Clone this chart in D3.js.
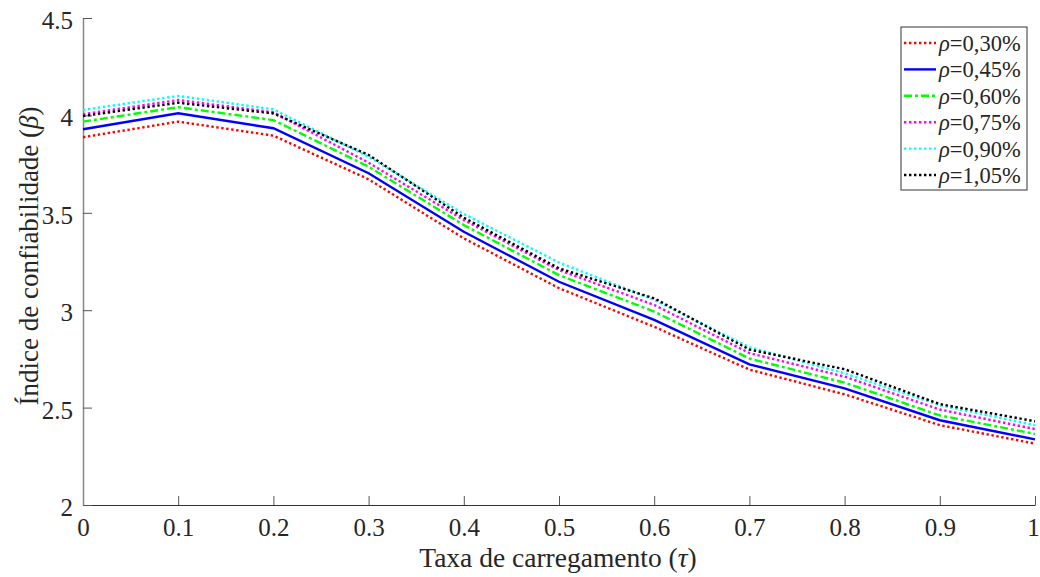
<!DOCTYPE html>
<html><head><meta charset="utf-8">
<script src="https://cdn.jsdelivr.net/npm/d3@7"></script>
<style>body{margin:0;background:#fff}svg{display:block}</style>
</head><body><svg id="c" width="1040" height="577"></svg>
<script>
const tau = [0,0.1,0.2,0.3,0.4,0.5,0.6,0.7,0.8,0.9,1.0];
const r030 = [3.888,3.968,3.896,3.672,3.369,3.113,2.915,2.695,2.568,2.41,2.315];
const r045 = [3.929,4.011,3.934,3.703,3.403,3.146,2.95,2.722,2.599,2.435,2.337];
const r060 = [3.968,4.042,3.976,3.737,3.437,3.18,2.993,2.752,2.628,2.46,2.365];
const r075 = [4.006,4.079,4.016,3.757,3.463,3.206,3.027,2.78,2.659,2.49,2.39];
const r090 = [4.028,4.10,4.031,3.788,3.494,3.245,3.053,2.81,2.676,2.512,2.41];
const r105 = [3.997,4.065,4.01,3.797,3.475,3.215,3.061,2.798,2.697,2.518,2.43];
const seriesNames = ["ρ=0,30%","ρ=0,45%","ρ=0,60%","ρ=0,75%","ρ=0,90%","ρ=1,05%"];
const seriesVals = [r030,r045,r060,r075,r090,r105];
const xTicks = [0,0.1,0.2,0.3,0.4,0.5,0.6,0.7,0.8,0.9,1];
const yTicks = [2,2.5,3,3.5,4,4.5];
const colors = ["#ff0000","#0000ff","#00ff00","#ff00ff","#00ffff","#000000"];
const dashes = ["2.4,2.6",null,"8,3,3,3","2.4,2.6","2.4,2.6","2.4,2.6"];
const FONT = '"Liberation Serif"';

const svg = d3.select("#c");
const x = d3.scaleLinear().domain([0,1]).range([83,1035]);
const y = d3.scaleLinear().domain([2,4.5]).range([505,18]);

// axes
const xa = svg.append("g").attr("transform","translate(0,505)")
  .call(d3.axisBottom(x).tickValues(xTicks).tickSizeInner(-9).tickSizeOuter(0).tickFormat(d=>d3.format("")(d)));
const ya = svg.append("g").attr("transform","translate(83,0)")
  .call(d3.axisLeft(y).tickValues(yTicks).tickSizeInner(-9).tickSizeOuter(0).tickPadding(10).tickFormat(d=>d3.format("")(d)));
[xa,ya].forEach(a=>{
  a.attr("font-family",FONT);
  a.selectAll(".tick line").attr("stroke","#555");
  a.selectAll(".tick text").attr("font-size",25).attr("fill","#262626").attr("font-family",FONT).style("font-family",FONT);
});
xa.select(".domain").attr("stroke","#333").attr("stroke-width",1.2);
ya.select(".domain").attr("stroke","#888").attr("stroke-width",1.5);
xa.selectAll(".tick text").attr("y",31).attr("dy",0).attr("dx",d=>d===1?-2:0);
ya.selectAll(".tick text").attr("dy","0.42em");

// lines
const line = d3.line().x((d,i)=>x(tau[i])).y(d=>y(d));
seriesVals.forEach((vals,k)=>{
  svg.append("path").datum(vals).attr("d",line).attr("fill","none")
    .attr("stroke",colors[k]).attr("stroke-width",2.4)
    .attr("stroke-dasharray",dashes[k]);
});

// labels
svg.append("text").attr("x",558).attr("y",567).attr("text-anchor","middle").attr("font-size",27.5)
  .attr("fill","#262626").attr("font-family",FONT).style("font-family",FONT)
  .html('Taxa de carregamento (<tspan font-style="italic">τ</tspan>)');
svg.append("text").attr("transform","translate(38,256) rotate(-90)").attr("text-anchor","middle").attr("font-size",27)
  .attr("fill","#262626").attr("font-family",FONT).style("font-family",FONT)
  .html('Índice de confiabilidade (<tspan font-style="italic">β</tspan>)');

// legend
const lg = svg.append("g");
lg.append("rect").attr("x",901).attr("y",27).attr("width",126).attr("height",163)
  .attr("fill","#fff").attr("stroke","#333").attr("stroke-width",1);
seriesNames.forEach((n,k)=>{
  const yy = 43 + k*26.4;
  lg.append("line").attr("x1",904).attr("x2",936).attr("y1",yy).attr("y2",yy)
    .attr("stroke",colors[k]).attr("stroke-width",2.4).attr("stroke-dasharray",dashes[k]);
  const t = lg.append("text").attr("x",939).attr("y",yy+8).attr("font-size",22.5)
    .attr("fill","#262626").attr("font-family",FONT).style("font-family",FONT);
  t.append("tspan").attr("font-style","italic").text(n.slice(0,1));
  t.append("tspan").text(n.slice(1));
});
</script></body></html>
